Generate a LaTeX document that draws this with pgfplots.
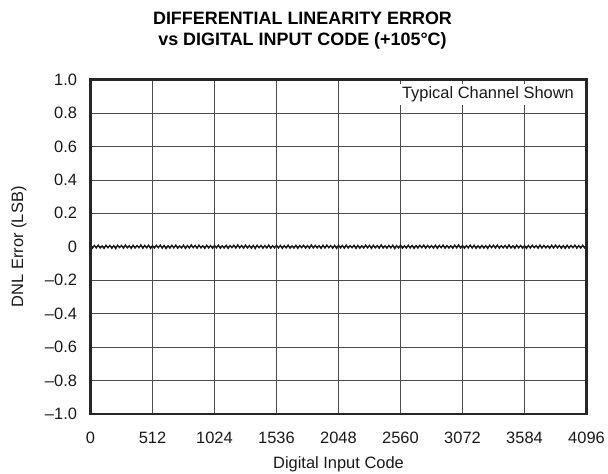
\documentclass[border=0pt]{standalone}
\usepackage{fontspec}
\setmainfont{Liberation Sans}
\usepackage{pgfplots}
\pgfplotsset{compat=1.18}
\begin{document}
\begin{tikzpicture}
\begin{axis}[
  at={(0,0)}, anchor=south west,
  scale only axis, width=496bp, height=334.5bp,
  xmin=0, xmax=4096, ymin=-1, ymax=1,
  xtick={0,512,1024,1536,2048,2560,3072,3584,4096},
  xticklabels={0,512,1024,1536,2048,2560,3072,3584,4096},
  ytick={-1,-0.8,-0.6,-0.4,-0.2,0,0.2,0.4,0.6,0.8,1},
  yticklabels={–1.0,–0.8,–0.6,–0.4,–0.2,0,0.2,0.4,0.6,0.8,1.0},
  tick style={draw=none},
  grid=major,
  major grid style={black!70, line width=0.6bp},
  axis line style={draw=none},
  ticklabel style={font=\fontsize{16.5}{19}\selectfont, text=black!90},
  yticklabel shift=10bp,
  xticklabel shift=15bp,
  xlabel={Digital Input Code},
  ylabel={DNL Error (LSB)},
  label style={font=\fontsize{16.5}{19}\selectfont, text=black!90},
  xlabel style={at={(axis description cs:0.5,-0.1644)}, anchor=base},
  ylabel style={at={(axis description cs:-0.1442,0.5)}, anchor=center},
  clip=false,
]
\addplot[black!90, line width=1.3bp] table[row sep=\\] {
x y\\
0 0.006\\ 16 -0.009\\ 32 0.008\\ 48 -0.007\\ 64 0.010\\ 80 -0.008\\ 96 0.005\\ 112 -0.010\\ 128 0.009\\ 144 -0.006\\ 160 0.008\\ 176 -0.009\\ 192 0.007\\ 208 -0.011\\ 224 0.009\\ 240 -0.005\\
256 0.008\\ 272 -0.009\\ 288 0.010\\ 304 -0.007\\ 320 0.006\\ 336 -0.010\\ 352 0.009\\ 368 -0.008\\ 384 0.007\\ 400 -0.006\\ 416 0.011\\ 432 -0.009\\ 448 0.008\\ 464 -0.007\\ 480 0.009\\ 496 -0.010\\
512 0.007\\ 528 -0.008\\ 544 0.009\\ 560 -0.006\\ 576 0.010\\ 592 -0.009\\ 608 0.008\\ 624 -0.011\\ 640 0.006\\ 656 -0.008\\ 672 0.009\\ 688 -0.007\\ 704 0.010\\ 720 -0.009\\ 736 0.005\\ 752 -0.008\\
768 0.009\\ 784 -0.010\\ 800 0.007\\ 816 -0.008\\ 832 0.011\\ 848 -0.006\\ 864 0.008\\ 880 -0.009\\ 896 0.010\\ 912 -0.007\\ 928 0.006\\ 944 -0.010\\ 960 0.009\\ 976 -0.008\\ 992 0.007\\ 1008 -0.009\\
1024 0.008\\ 1040 -0.007\\ 1056 0.010\\ 1072 -0.009\\ 1088 0.006\\ 1104 -0.008\\ 1120 0.009\\ 1136 -0.010\\ 1152 0.007\\ 1168 -0.006\\ 1184 0.009\\ 1200 -0.008\\ 1216 0.011\\ 1232 -0.007\\ 1248 0.008\\ 1264 -0.009\\
1280 0.010\\ 1296 -0.008\\ 1312 0.007\\ 1328 -0.009\\ 1344 0.008\\ 1360 -0.011\\ 1376 0.009\\ 1392 -0.006\\ 1408 0.008\\ 1424 -0.009\\ 1440 0.007\\ 1456 -0.008\\ 1472 0.010\\ 1488 -0.009\\ 1504 0.006\\ 1520 -0.007\\
1536 0.009\\ 1552 -0.008\\ 1568 0.008\\ 1584 -0.010\\ 1600 0.007\\ 1616 -0.007\\ 1632 0.010\\ 1648 -0.009\\ 1664 0.005\\ 1680 -0.008\\ 1696 0.009\\ 1712 -0.010\\ 1728 0.008\\ 1744 -0.006\\ 1760 0.009\\ 1776 -0.008\\
1792 0.007\\ 1808 -0.009\\ 1824 0.011\\ 1840 -0.008\\ 1856 0.008\\ 1872 -0.007\\ 1888 0.006\\ 1904 -0.010\\ 1920 0.009\\ 1936 -0.008\\ 1952 0.010\\ 1968 -0.006\\ 1984 0.007\\ 2000 -0.009\\ 2016 0.008\\ 2032 -0.010\\
2048 0.009\\ 2064 -0.007\\ 2080 0.008\\ 2096 -0.009\\ 2112 0.010\\ 2128 -0.008\\ 2144 0.007\\ 2160 -0.006\\ 2176 0.009\\ 2192 -0.010\\ 2208 0.008\\ 2224 -0.009\\ 2240 0.006\\ 2256 -0.008\\ 2272 0.010\\ 2288 -0.007\\
2304 0.008\\ 2320 -0.010\\ 2336 0.009\\ 2352 -0.007\\ 2368 0.007\\ 2384 -0.009\\ 2400 0.011\\ 2416 -0.008\\ 2432 0.006\\ 2448 -0.009\\ 2464 0.008\\ 2480 -0.007\\ 2496 0.009\\ 2512 -0.011\\ 2528 0.007\\ 2544 -0.008\\
2560 0.010\\ 2576 -0.009\\ 2592 0.006\\ 2608 -0.008\\ 2624 0.009\\ 2640 -0.007\\ 2656 0.008\\ 2672 -0.010\\ 2688 0.007\\ 2704 -0.008\\ 2720 0.009\\ 2736 -0.006\\ 2752 0.010\\ 2768 -0.009\\ 2784 0.008\\ 2800 -0.007\\
2816 0.007\\ 2832 -0.008\\ 2848 0.009\\ 2864 -0.010\\ 2880 0.008\\ 2896 -0.006\\ 2912 0.010\\ 2928 -0.009\\ 2944 0.007\\ 2960 -0.008\\ 2976 0.006\\ 2992 -0.009\\ 3008 0.009\\ 3024 -0.007\\ 3040 0.011\\ 3056 -0.008\\
3072 0.008\\ 3088 -0.009\\ 3104 0.007\\ 3120 -0.007\\ 3136 0.010\\ 3152 -0.008\\ 3168 0.009\\ 3184 -0.010\\ 3200 0.006\\ 3216 -0.009\\ 3232 0.008\\ 3248 -0.008\\ 3264 0.007\\ 3280 -0.010\\ 3296 0.009\\ 3312 -0.006\\
3328 0.009\\ 3344 -0.008\\ 3360 0.010\\ 3376 -0.009\\ 3392 0.007\\ 3408 -0.007\\ 3424 0.008\\ 3440 -0.009\\ 3456 0.011\\ 3472 -0.008\\ 3488 0.006\\ 3504 -0.010\\ 3520 0.009\\ 3536 -0.007\\ 3552 0.008\\ 3568 -0.009\\
3584 0.007\\ 3600 -0.010\\ 3616 0.008\\ 3632 -0.008\\ 3648 0.009\\ 3664 -0.006\\ 3680 0.007\\ 3696 -0.009\\ 3712 0.010\\ 3728 -0.008\\ 3744 0.008\\ 3760 -0.007\\ 3776 0.006\\ 3792 -0.009\\ 3808 0.009\\ 3824 -0.008\\
3840 0.010\\ 3856 -0.007\\ 3872 0.008\\ 3888 -0.009\\ 3904 0.007\\ 3920 -0.010\\ 3936 0.009\\ 3952 -0.008\\ 3968 0.008\\ 3984 -0.006\\ 4000 0.010\\ 4016 -0.009\\ 4032 0.007\\ 4048 -0.008\\ 4064 0.009\\ 4080 -0.007\\
4096 0.006\\
};
\node[fill=white, inner sep=3bp, anchor=base east, text=black!90,
      font=\fontsize{16.5}{19}\selectfont]
  at (rel axis cs:0.981,0.942) {Typical Channel Shown};
\draw[black!85, line width=2.3bp] (rel axis cs:0,0) rectangle (rel axis cs:1,1);
\end{axis}
\node[anchor=base, font=\fontsize{18}{21}\selectfont\bfseries] at (212bp,389bp) {DIFFERENTIAL LINEARITY ERROR};
\node[anchor=base, font=\fontsize{18}{21}\selectfont\bfseries] at (212bp,368bp) {vs DIGITAL INPUT CODE (+105°C)};
\pgfresetboundingbox
\path[use as bounding box] (-90.5bp,-60bp) rectangle (517.5bp,414bp);
\end{tikzpicture}
\end{document}
